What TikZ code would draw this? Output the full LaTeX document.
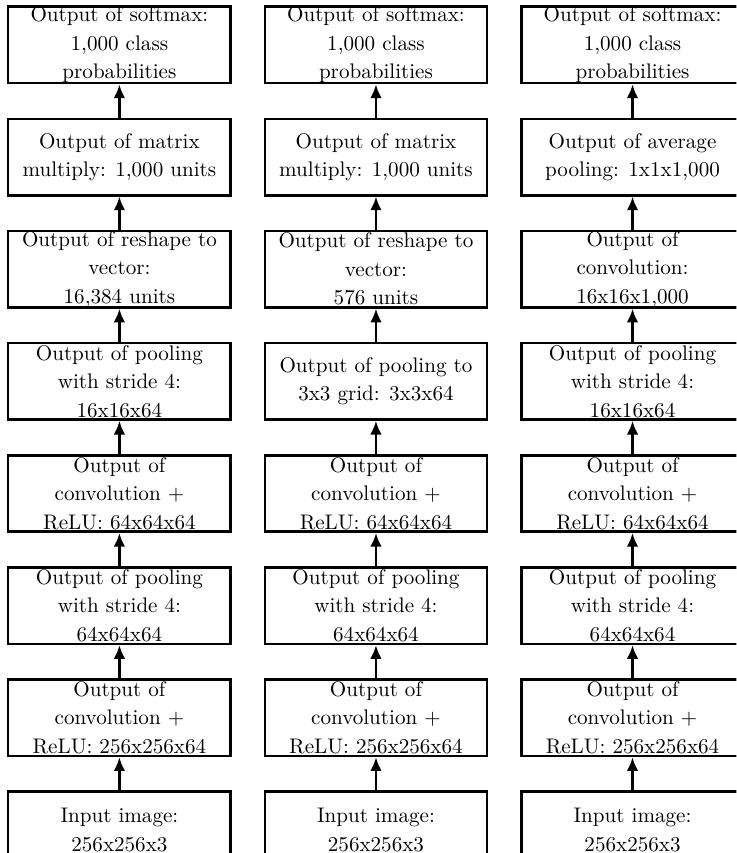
\documentclass[tikz,border=0pt]{standalone}
\usepackage{tikz}
\usetikzlibrary{arrows.meta,positioning}
\newcommand{\boxfont}{\fontsize{10}{13.5}\selectfont}
\tikzset{
  layerbox/.style={draw,line width=1.2pt,inner sep=0pt,align=center,
    minimum width=105.4pt,minimum height=36.2pt,font=\boxfont},
  flow/.style={line width=1.2pt,-{Latex[length=6.5pt,width=5.5pt]}}
}

\begin{document}
\begin{tikzpicture}[x=1pt,y=1pt]
  \useasboundingbox (0,0) rectangle (349,-404.3);
  \clip (0,0) rectangle (349,-404.3);
  % left column
  \node[layerbox] (inputA) at (56.6,-393.35) {Input image:\\256x256x3};
  \node[layerbox] (convA1) at (56.6,-340.2) {Output of\\convolution +\\ReLU: 256x256x64};
  \node[layerbox] (poolA1) at (56.6,-287.05) {Output of pooling\\with stride 4:\\64x64x64};
  \node[layerbox] (convA2) at (56.6,-233.9) {Output of\\convolution +\\ReLU: 64x64x64};
  \node[layerbox] (poolA2) at (56.6,-180.75) {Output of pooling\\with stride 4:\\16x16x64};
  \node[layerbox] (reshapeA) at (56.6,-127.6) {Output of reshape to\\vector:\\16,384 units};
  \node[layerbox] (matmulA) at (56.6,-74.45) {Output of matrix\\multiply: 1,000 units};
  \node[layerbox] (softmaxA) at (56.6,-21.3) {Output of softmax:\\1,000 class\\probabilities};
  % middle column
  \node[layerbox] (inputB) at (178.2,-393.35) {Input image:\\256x256x3};
  \node[layerbox] (convB1) at (178.2,-340.2) {Output of\\convolution +\\ReLU: 256x256x64};
  \node[layerbox] (poolB1) at (178.2,-287.05) {Output of pooling\\with stride 4:\\64x64x64};
  \node[layerbox] (convB2) at (178.2,-233.9) {Output of\\convolution +\\ReLU: 64x64x64};
  \node[layerbox] (poolB2) at (178.2,-180.75) {Output of pooling to\\3x3 grid: 3x3x64};
  \node[layerbox] (reshapeB) at (178.2,-127.6) {Output of reshape to\\vector:\\576 units};
  \node[layerbox] (matmulB) at (178.2,-74.45) {Output of matrix\\multiply: 1,000 units};
  \node[layerbox] (softmaxB) at (178.2,-21.3) {Output of softmax:\\1,000 class\\probabilities};
  % right column
  \node[layerbox] (inputC) at (299.8,-393.35) {Input image:\\256x256x3};
  \node[layerbox] (convC1) at (299.8,-340.2) {Output of\\convolution +\\ReLU: 256x256x64};
  \node[layerbox] (poolC1) at (299.8,-287.05) {Output of pooling\\with stride 4:\\64x64x64};
  \node[layerbox] (convC2) at (299.8,-233.9) {Output of\\convolution +\\ReLU: 64x64x64};
  \node[layerbox] (poolC2) at (299.8,-180.75) {Output of pooling\\with stride 4:\\16x16x64};
  \node[layerbox] (convC3) at (299.8,-127.6) {Output of\\convolution:\\16x16x1,000};
  \node[layerbox] (avgpoolC) at (299.8,-74.45) {Output of average\\pooling: 1x1x1,000};
  \node[layerbox] (softmaxC) at (299.8,-21.3) {Output of softmax:\\1,000 class\\probabilities};
  % arrows
  \draw[flow] (inputA) -- (convA1);
  \draw[flow] (convA1) -- (poolA1);
  \draw[flow] (poolA1) -- (convA2);
  \draw[flow] (convA2) -- (poolA2);
  \draw[flow] (poolA2) -- (reshapeA);
  \draw[flow] (reshapeA) -- (matmulA);
  \draw[flow] (matmulA) -- (softmaxA);
  \draw[flow] (inputB) -- (convB1);
  \draw[flow] (convB1) -- (poolB1);
  \draw[flow] (poolB1) -- (convB2);
  \draw[flow] (convB2) -- (poolB2);
  \draw[flow] (poolB2) -- (reshapeB);
  \draw[flow] (reshapeB) -- (matmulB);
  \draw[flow] (matmulB) -- (softmaxB);
  \draw[flow] (inputC) -- (convC1);
  \draw[flow] (convC1) -- (poolC1);
  \draw[flow] (poolC1) -- (convC2);
  \draw[flow] (convC2) -- (poolC2);
  \draw[flow] (poolC2) -- (convC3);
  \draw[flow] (convC3) -- (avgpoolC);
  \draw[flow] (avgpoolC) -- (softmaxC);
\end{tikzpicture}
\end{document}
